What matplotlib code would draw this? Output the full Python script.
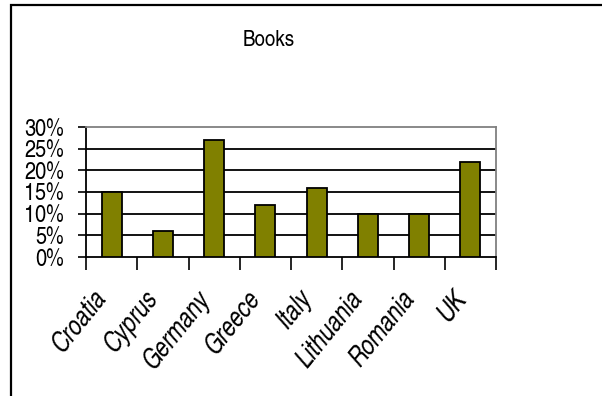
import matplotlib
matplotlib.use("Agg")
import matplotlib.pyplot as plt
import matplotlib.transforms as mtransforms
from matplotlib.patches import Rectangle
import numpy as np

categories = ["Croatia", "Cyprus", "Germany", "Greece", "Italy", "Lithuania", "Romania", "UK"]
values = [15, 6, 27, 12, 16, 10, 10, 22]
yticks = [0, 5, 10, 15, 20, 25, 30]
ytick_labels = ["0%", "5%", "10%", "15%", "20%", "25%", "30%"]
title = "Books"

FONT = ["Liberation Sans Narrow", "TeX Gyre Heros Cn", "Liberation Sans", "DejaVu Sans"]
plt.rcParams['font.family'] = FONT

W, H = 602, 396
fig = plt.figure(figsize=(W / 100, H / 100), dpi=100)

# outer frame
fig.patches.append(Rectangle((11 / W, -0.1), 1.2, (H - 5) / H + 0.1, transform=fig.transFigure,
                             fill=False, edgecolor="black", linewidth=1.6))

ax = fig.add_axes([86 / W, 1 - 257 / H, (496 - 86) / W, (257 - 127) / H])
x = np.arange(len(categories))
ax.bar(x, values, width=0.39, color="#808000", edgecolor="black", linewidth=1.3, zorder=3)
ax.set_xlim(-0.5, len(categories) - 0.5)
ax.set_ylim(0, 30)

ax.set_yticks(yticks)
ax.set_yticklabels(ytick_labels, fontsize=17.5)
for yv in yticks[1:-1]:
    ax.axhline(yv, color="black", linewidth=1.3, zorder=1)

ax.set_xticks(np.arange(len(categories) + 1) - 0.5, minor=False)
ax.set_xticklabels([])
ax.tick_params(axis="x", length=9, width=1.2, direction="out", color="black")
ax.tick_params(axis="y", length=6, width=1.2, direction="out", color="black", pad=10)

for sp in ["top", "right"]:
    ax.spines[sp].set_color("#808080")
    ax.spines[sp].set_linewidth(1.3)
for sp in ["left", "bottom"]:
    ax.spines[sp].set_color("black")
    ax.spines[sp].set_linewidth(1.3)

# rotated category labels
offset = mtransforms.ScaledTranslation(-19 / 100, -29 / 100, fig.dpi_scale_trans)
for xi, lab in zip(x, categories):
    ax.text(xi, 0, lab, rotation=51, rotation_mode="anchor", ha="right", va="top",
            fontsize=19.5, fontstyle="italic",
            transform=mtransforms.blended_transform_factory(ax.transData, ax.transAxes) + offset)

fig.text(269 / W, 1 - 40 / H, title, ha="center", va="center", fontsize=16.5)

fig.savefig("out.png", dpi=100)
